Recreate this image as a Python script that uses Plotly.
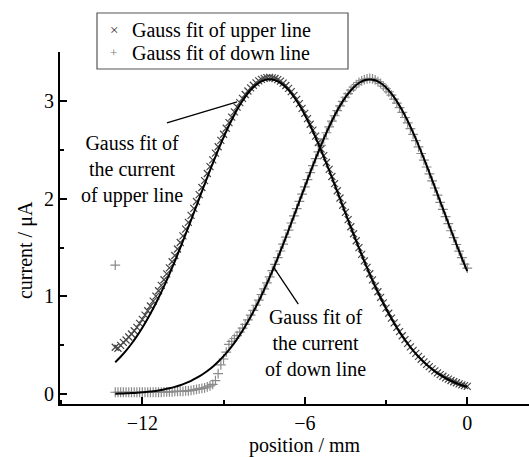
import numpy as np
import plotly.graph_objects as go

# ---------------- data ----------------
# sample positions (mm)
x_data = np.round(np.arange(-13.0, 0.05, 0.1), 1)   # measured points
x_fit = np.round(np.arange(-13.0, 0.05, 0.2), 1)    # fitted curves

upper_data = [
    0.48, 0.47, 0.50, 0.53, 0.555, 0.585, 0.616, 0.649, 0.684, 0.724,
    0.765, 0.809, 0.854, 0.902, 0.952, 1.004, 1.058, 1.114, 1.171, 1.231,
    1.292, 1.355, 1.419, 1.485, 1.552, 1.620, 1.689, 1.758, 1.829, 1.900,
    1.971, 2.042, 2.114, 2.185, 2.257, 2.327, 2.396, 2.465, 2.531, 2.596,
    2.659, 2.720, 2.778, 2.834, 2.887, 2.936, 2.983, 3.026, 3.065, 3.101,
    3.133, 3.160, 3.184, 3.204, 3.220, 3.231, 3.238, 3.240,
    3.236, 3.229, 3.218, 3.202, 3.182, 3.157, 3.128, 3.095, 3.057, 3.016,
    2.972, 2.923, 2.873, 2.818, 2.761, 2.701, 2.639, 2.574, 2.508, 2.440,
    2.370, 2.299, 2.227, 2.154, 2.081, 2.007, 1.933, 1.860, 1.786, 1.713,
    1.641, 1.570, 1.500, 1.431, 1.363, 1.297, 1.232, 1.169, 1.107, 1.048,
    0.990, 0.934, 0.880, 0.828, 0.778, 0.730, 0.684, 0.640, 0.598, 0.558,
    0.520, 0.484, 0.449, 0.417, 0.387, 0.358, 0.331, 0.305, 0.282, 0.259,
    0.238, 0.219, 0.201, 0.184, 0.168, 0.154, 0.140, 0.128, 0.117, 0.106,
    0.096, 0.088, 0.080,
]

down_data = [
    0.02, 0.02, 0.02, 0.02, 0.02, 0.02, 0.02, 0.02, 0.02, 0.02,
    0.02, 0.02, 0.02, 0.02, 0.02, 0.02, 0.02, 0.02,
    0.025, 0.025, 0.025, 0.025, 0.03, 0.03, 0.03, 0.03, 0.035, 0.035,
    0.04, 0.045, 0.05, 0.055, 0.06, 0.065, 0.075, 0.085, 0.10, 0.14,
    0.21, 0.30, 0.36, 0.43, 0.51,
    0.54, 0.57, 0.60, 0.635, 0.675, 0.715, 0.76, 0.808, 0.857, 0.910,
    0.963, 1.020, 1.078, 1.138, 1.200, 1.264, 1.329, 1.396, 1.465, 1.535,
    1.606, 1.678, 1.751, 1.824, 1.898, 1.972, 2.046, 2.120, 2.194, 2.266,
    2.338, 2.409, 2.478, 2.545, 2.611, 2.674, 2.735, 2.793, 2.848, 2.900,
    2.949, 2.995, 3.037, 3.075, 3.110, 3.140, 3.166, 3.188, 3.205, 3.218,
    3.226, 3.230, 3.226, 3.215, 3.198, 3.178, 3.152, 3.124, 3.093, 3.058,
    3.019, 2.977, 2.931, 2.882, 2.830, 2.775, 2.717, 2.657, 2.594, 2.529,
    2.462, 2.394, 2.324, 2.253, 2.182, 2.109, 2.036, 1.963, 1.890, 1.816,
    1.744, 1.672, 1.601, 1.531, 1.463, 1.396, 1.331, 1.29,
]
down_outlier_x = [-13.0]
down_outlier_y = [1.32]

upper_fit = [
    0.327, 0.383, 0.445, 0.516, 0.594, 0.680, 0.774, 0.876, 0.986, 1.103,
    1.228, 1.359, 1.496, 1.637, 1.781, 1.927, 2.074, 2.219, 2.360, 2.497,
    2.627, 2.748, 2.859, 2.957, 3.041, 3.111, 3.164, 3.200, 3.218, 3.218,
    3.200, 3.164, 3.111, 3.041, 2.957, 2.859, 2.748, 2.627, 2.497, 2.360,
    2.219, 2.074, 1.927, 1.781, 1.637, 1.496, 1.359, 1.228, 1.103, 0.986,
    0.876, 0.774, 0.680, 0.594, 0.516, 0.445, 0.383, 0.327, 0.278, 0.234,
    0.197, 0.164, 0.136, 0.113, 0.092, 0.076,
]

down_fit = [
    0.005, 0.007, 0.009, 0.012, 0.015, 0.019, 0.025, 0.031, 0.039, 0.049,
    0.061, 0.075, 0.092, 0.113, 0.137, 0.166, 0.199, 0.237, 0.281, 0.332,
    0.389, 0.454, 0.526, 0.606, 0.695, 0.792, 0.897, 1.010, 1.131, 1.259,
    1.393, 1.533, 1.677, 1.824, 1.973, 2.121, 2.267, 2.410, 2.546, 2.675,
    2.794, 2.901, 2.995, 3.074, 3.137, 3.183, 3.211, 3.220, 3.211, 3.183,
    3.137, 3.074, 2.995, 2.901, 2.794, 2.675, 2.546, 2.410, 2.267, 2.121,
    1.973, 1.824, 1.677, 1.533, 1.393, 1.259,
]

x_tickvals = [-12, -6, 0]
y_tickvals = [0, 1, 2, 3]

legend_names = ["Gauss fit of upper line", "Gauss fit of down line"]
x_title = "position / mm"
y_title = "current / μA"
label_upper = "Gauss fit of<br>the current<br>of upper line"
label_down = "Gauss fit of<br>the current<br>of down line"

FONT = "Liberation Serif, Times New Roman, serif"

# ---------------- figure ----------------
fig = go.Figure()

fig.add_trace(go.Scatter(
    x=x_data, y=upper_data, mode="markers", name=legend_names[0],
    marker=dict(symbol="x-thin", size=7, line=dict(color="#444444", width=1.2)),
    showlegend=False, cliponaxis=False))
fig.add_trace(go.Scatter(
    x=list(x_data) + down_outlier_x, y=down_data + down_outlier_y,
    mode="markers", name=legend_names[1],
    marker=dict(symbol="cross-thin", size=7, line=dict(color="#8a8a8a", width=1.2)),
    showlegend=False, cliponaxis=False))
fig.add_trace(go.Scatter(
    x=x_fit, y=upper_fit, mode="lines", line=dict(color="black", width=2, shape="spline"),
    showlegend=False, cliponaxis=False))
fig.add_trace(go.Scatter(
    x=x_fit, y=down_fit, mode="lines", line=dict(color="black", width=2, shape="spline"),
    showlegend=False, cliponaxis=False))

axis_common = dict(
    showline=True, linecolor="black", linewidth=2, mirror=False,
    showgrid=False, zeroline=False, ticks="inside", ticklen=7, tickwidth=2,
    tickcolor="black", tickfont=dict(family=FONT, size=20, color="black"),
)

fig.update_xaxes(range=[-15.04, 2.28], tickvals=x_tickvals, **axis_common,
                 minor=dict(tickvals=[-15, -9, -3], ticks="inside", ticklen=4,
                            tickwidth=2, tickcolor="black"))
fig.update_yaxes(range=[-0.1, 3.5], tickvals=y_tickvals, **axis_common,
                 minor=dict(tickvals=[0.5, 1.5, 2.5, 3.5], ticks="inside", ticklen=4,
                            tickwidth=2, tickcolor="black"))

annotations = [
    dict(text=x_title, xref="paper", yref="paper", x=0.5224, y=-0.1165,
         showarrow=False, xanchor="center", yanchor="middle",
         font=dict(family=FONT, size=20, color="black")),
    dict(text=y_title, xref="paper", yref="paper", x=-0.0746, y=0.4375,
         showarrow=False, textangle=-90, xanchor="center", yanchor="middle",
         font=dict(family=FONT, size=20, color="black")),
    dict(text=label_upper, xref="paper", yref="paper", x=0.1535, y=0.6648,
         showarrow=False, align="center", xanchor="center", yanchor="middle",
         font=dict(family=FONT, size=20, color="black")),
    dict(text=label_down, xref="paper", yref="paper", x=0.5458, y=0.1733,
         showarrow=False, align="center", xanchor="center", yanchor="middle",
         font=dict(family=FONT, size=20, color="black")),
    # legend
    dict(text=legend_names[0], xref="paper", yref="paper", x=0.1493, y=1.0625,
         showarrow=False, xanchor="left", yanchor="middle",
         font=dict(family=FONT, size=20, color="black")),
    dict(text=legend_names[1], xref="paper", yref="paper", x=0.1493, y=0.9972,
         showarrow=False, xanchor="left", yanchor="middle",
         font=dict(family=FONT, size=20, color="black")),
    dict(text="×", xref="paper", yref="paper", x=0.1151, y=1.0625,
         showarrow=False, xanchor="center", yanchor="middle",
         font=dict(family=FONT, size=15, color="#333333")),
    dict(text="+", xref="paper", yref="paper", x=0.1151, y=0.9972,
         showarrow=False, xanchor="center", yanchor="middle",
         font=dict(family=FONT, size=13, color="#777777")),
]

shapes = [
    dict(type="rect", xref="paper", yref="paper", x0=0.0789, x1=0.6141,
         y0=0.9517, y1=1.1108, line=dict(color="#555555", width=1.2)),
    dict(type="line", xref="x", yref="y", x0=-11.09, y0=2.775, x1=-8.50, y1=2.99,
         line=dict(color="black", width=1.3)),
    dict(type="line", xref="x", yref="y", x0=-7.16, y0=1.303, x1=-6.24, y1=0.921,
         line=dict(color="black", width=1.3)),
]

fig.update_layout(
    width=529, height=457,
    margin=dict(l=60, r=0, t=52, b=53),
    paper_bgcolor="white", plot_bgcolor="white",
    font=dict(family=FONT, size=20, color="black"),
    annotations=annotations, shapes=shapes, showlegend=False,
)

fig.write_html("out.html")
